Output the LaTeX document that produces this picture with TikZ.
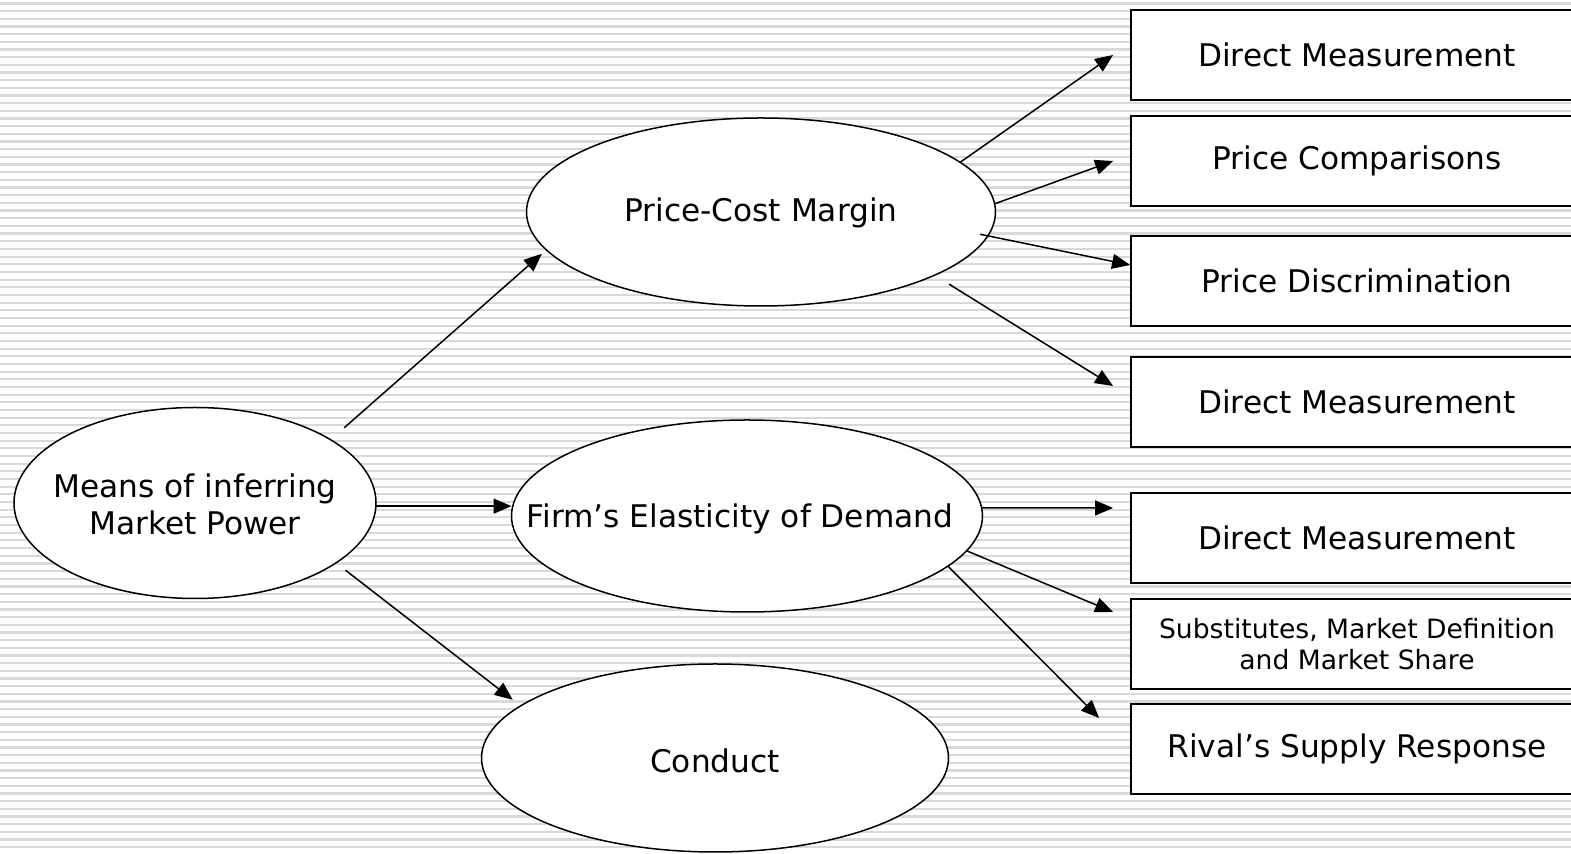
\documentclass[tikz,border=0pt]{standalone}
\usepackage{fontspec}
\setmainfont{DejaVu Sans}
\usetikzlibrary{arrows.meta,shapes.geometric}

\tikzset{
  oval/.style={draw,ellipse,fill=white,line width=0.75pt,inner sep=0pt,outer sep=0pt},
  box/.style={draw,rectangle,fill=white,line width=0.9pt,minimum width=226pt,minimum height=45pt,inner sep=0pt,align=center},
  arr/.style={-{Triangle[length=9pt,width=7.5pt]},line width=0.75pt},
  stripe/.style={line width=1.1pt,black!15}
}

\begin{document}
\begin{tikzpicture}[x=0.5pt,y=-0.5pt,font=\fontsize{15.6}{18.5}\selectfont]
\useasboundingbox (0,0) rectangle (1571,854);
\clip (0,0) rectangle (1571,854);
\fill[white] (0,0) rectangle (1571,854);
\foreach \k in {0,...,110} \draw[stripe] (0,{3.5+7.67*\k}) -- (1571,{3.5+7.67*\k});
% ellipses
\node[oval,minimum width=181pt,minimum height=95.5pt] (means) at (195,503) {};
\node[oval,minimum width=234.5pt,minimum height=94pt] (pcm) at (761,212) {};
\node[oval,minimum width=235.5pt,minimum height=96pt] (firm) at (747,516) {};
\node[oval,minimum width=233.5pt,minimum height=94pt] (conduct) at (715,758) {};
\node[align=center] (means-l) at (195,504) {Means of inferring\\Market Power};
\node (pcm-l) at (761,213) {Price-Cost Margin};
\node (firm-l) at (740,519) {Firm’s Elasticity of Demand};
\node (conduct-l) at (715,761) {Conduct};
% boxes
\node[box] (dm1) at (1357,55) {Direct Measurement};
\node[box] (pc) at (1357,161) {Price Comparisons};
\node[box] (pd) at (1357,281) {Price Discrimination};
\node[box] (dm2) at (1357,402) {Direct Measurement};
\node[box] (dm3) at (1357,538) {Direct Measurement};
\node[box,font=\fontsize{13.3}{15.5}\selectfont] (subs) at (1357,644) {Substitutes, Market Definition\\and Market Share};
\node[box] (rival) at (1357,749) {Rival’s Supply Response};
% arrows
\draw[arr,shorten <=9pt,shorten >=3pt] (means.25) -- (pcm.190);
\draw[arr] (means.-1.5) -- (means.-1.5 -| firm.west);
\draw[arr,shorten <=6pt,shorten >=5pt] (means.-23) -- (conduct.165);
\draw[arr] (pcm.14) -- ([xshift=-8.5pt]dm1.west);
\draw[arr] (pcm.2) -- ([xshift=-8.5pt]pc.west);
\draw[arr,shorten <=-4pt] (pcm.-6.5) -- ([yshift=8pt]pd.west);
\draw[arr,shorten <=8.5pt] (pcm.-20.4) -- ([xshift=-8.5pt,yshift=8pt]dm2.west);
\draw[arr] (firm.2) -- ([xshift=-8.5pt,yshift=15pt]dm3.west);
\draw[arr] (firm.-9.7) -- ([xshift=-8.5pt,yshift=16pt]subs.west);
\draw[arr] (firm.-14.4) -- ([xshift=-15.5pt,yshift=15.5pt]rival.west);
\end{tikzpicture}
\end{document}
